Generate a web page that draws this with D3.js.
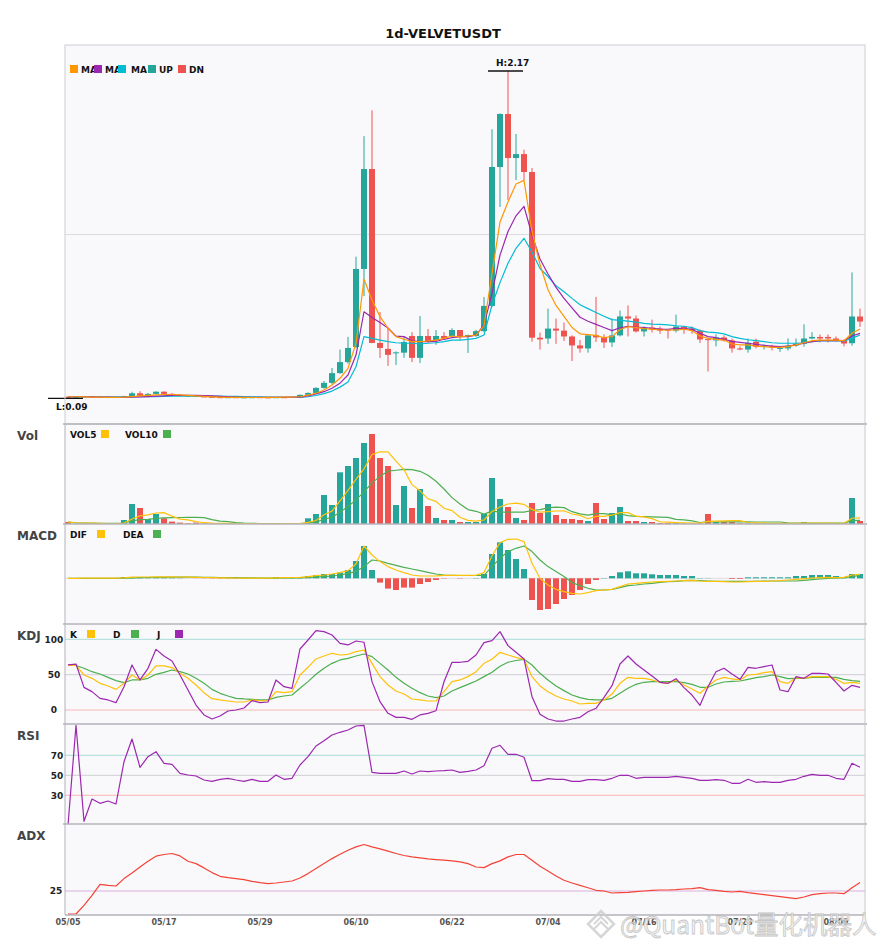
<!DOCTYPE html>
<html>
<head>
<meta charset="utf-8">
<script src="https://cdn.jsdelivr.net/npm/d3@7"></script>
<style>
  body { margin: 0; background: #fff; }
  svg { font-family: "DejaVu Sans", sans-serif; }
  .pane_label { font-size: 12px; font-weight: bold; fill: #444; }
  .legend_text { font-size: 9px; font-weight: bold; fill: #111; }
  .tick_label { font-size: 9px; font-weight: bold; fill: #222; text-anchor: middle; }
  .date_label { font-size: 8px; font-weight: bold; fill: #555; text-anchor: middle; }
  .title { font-size: 13px; font-weight: bold; fill: #111; text-anchor: middle; }
</style>
</head>
<body>
<svg id="chart" width="885" height="950"></svg>
<script>
// DATA
const dates = [
  "05/05","05/06","05/07","05/08","05/09","05/10","05/11","05/12","05/13","05/14",
  "05/15","05/16","05/17","05/18","05/19","05/20","05/21","05/22","05/23","05/24",
  "05/25","05/26","05/27","05/28","05/29","05/30","05/31","06/01","06/02","06/03",
  "06/04","06/05","06/06","06/07","06/08","06/09","06/10","06/11","06/12","06/13",
  "06/14","06/15","06/16","06/17","06/18","06/19","06/20","06/21","06/22","06/23",
  "06/24","06/25","06/26","06/27","06/28","06/29","06/30","07/01","07/02","07/03",
  "07/04","07/05","07/06","07/07","07/08","07/09","07/10","07/11","07/12","07/13",
  "07/14","07/15","07/16","07/17","07/18","07/19","07/20","07/21","07/22","07/23",
  "07/24","07/25","07/26","07/27","07/28","07/29","07/30","07/31","08/01","08/02",
  "08/03","08/04","08/05","08/06","08/07","08/08","08/09","08/10","08/11","08/12"];
const dateTicks = ["05/05","05/17","05/29","06/10","06/22","07/04","07/16","07/28","08/09"];

const open = [
  .100,.098,.100,.101,.099,.098,.097,.098,.103,.122,
  .106,.118,.132,.118,.110,.107,.105,.102,.099,.097,
  .096,.097,.095,.096,.097,.096,.095,.097,.096,.099,
  .112,.124,.156,.188,.250,.320,.416,.912,1.547,.442,
  .404,.378,.380,.486,.347,.486,.460,.486,.486,.524,
  .486,.486,.517,.677,1.560,1.897,1.617,1.642,1.528,.475,
  .470,.533,.520,.483,.426,.407,.490,.477,.445,.490,
  .610,.597,.515,.540,.533,.527,.520,.546,.533,.520,
  .466,.458,.477,.458,.407,.400,.450,.418,.422,.405,
  .407,.425,.437,.470,.480,.480,.470,.455,.440,.610];
const high = [
  .104,.102,.103,.102,.101,.100,.100,.106,.132,.135,
  .124,.134,.134,.124,.118,.110,.108,.103,.101,.099,
  .098,.099,.097,.098,.099,.098,.098,.099,.100,.114,
  .128,.160,.200,.283,.400,.480,.990,1.756,1.920,.638,
  .537,.388,.480,.510,.613,.530,.524,.510,.535,.524,
  .495,.525,.734,1.800,1.900,2.170,1.770,1.670,1.553,.508,
  .660,.597,.572,.490,.460,.490,.734,.496,.597,.648,
  .680,.616,.547,.590,.546,.530,.622,.546,.546,.527,
  .470,.496,.490,.470,.420,.470,.470,.432,.430,.420,
  .470,.470,.560,.510,.496,.496,.483,.465,.890,.660];
const low = [
  .090,.096,.098,.097,.096,.095,.095,.097,.100,.100,
  .104,.114,.115,.108,.105,.103,.100,.097,.095,.094,
  .094,.094,.093,.094,.095,.093,.094,.095,.095,.097,
  .108,.120,.150,.180,.245,.310,.410,.740,.440,.347,
  .296,.302,.347,.320,.314,.442,.430,.460,.473,.460,
  .378,.480,.510,.670,1.306,1.350,1.477,1.477,.450,.400,
  .436,.436,.455,.327,.380,.380,.448,.410,.416,.483,
  .483,.508,.483,.508,.500,.470,.508,.500,.500,.442,
  .260,.420,.450,.380,.395,.380,.407,.400,.394,.385,
  .394,.418,.418,.465,.445,.445,.450,.420,.424,.544];
const close = [
  .098,.100,.101,.099,.098,.097,.098,.103,.122,.106,
  .118,.132,.118,.110,.107,.105,.102,.099,.097,.096,
  .097,.095,.096,.097,.096,.095,.097,.096,.099,.112,
  .124,.156,.188,.250,.320,.410,.912,1.547,.442,.410,
  .366,.382,.448,.347,.486,.448,.486,.473,.524,.480,
  .492,.517,.677,1.560,1.897,1.617,1.642,1.528,.475,.464,
  .533,.520,.483,.426,.407,.490,.477,.445,.490,.610,
  .597,.515,.540,.527,.520,.520,.546,.533,.520,.464,
  .462,.477,.458,.407,.400,.443,.418,.425,.415,.410,
  .425,.437,.470,.480,.470,.470,.455,.438,.610,.578];

const maFast = [
  .100,.100,.099,.098,.097,.096,.096,.097,.101,.105,
  .108,.112,.114,.114,.112,.108,.105,.102,.099,.097,
  .096,.096,.096,.095,.095,.096,.096,.097,.098,.100,
  .110,.122,.143,.175,.217,.280,.440,.846,.715,.609,
  .535,.482,.465,.450,.450,.454,.460,.471,.486,.480,
  .486,.492,.550,.884,1.210,1.338,1.452,1.475,1.150,.940,
  .780,.680,.610,.540,.500,.495,.490,.475,.482,.527,
  .545,.540,.533,.530,.524,.524,.524,.530,.520,.486,
  .471,.465,.460,.435,.430,.430,.422,.418,.414,.414,
  .418,.430,.443,.456,.460,.460,.460,.456,.503,.530];
const maMid = [
  .100,.100,.100,.099,.098,.097,.096,.096,.097,.099,
  .101,.104,.106,.108,.109,.109,.108,.107,.105,.102,
  .099,.097,.096,.096,.096,.096,.096,.096,.097,.097,
  .105,.118,.132,.154,.186,.238,.365,.640,.604,.572,
  .537,.485,.482,.455,.450,.450,.452,.465,.475,.482,
  .482,.492,.556,.757,1.000,1.150,1.250,1.310,1.128,.975,
  .880,.795,.725,.665,.605,.580,.560,.540,.520,.538,
  .548,.543,.540,.535,.530,.528,.535,.535,.528,.503,
  .482,.475,.465,.452,.446,.440,.433,.427,.422,.418,
  .422,.429,.440,.450,.456,.457,.457,.456,.486,.503];
const maSlow = [
  .100,.100,.100,.100,.100,.099,.099,.099,.099,.100,
  .100,.101,.102,.103,.104,.104,.104,.104,.104,.104,
  .103,.102,.101,.100,.099,.098,.097,.097,.096,.095,
  .100,.108,.120,.136,.161,.193,.291,.482,.471,.460,
  .450,.443,.440,.440,.435,.440,.443,.450,.460,.460,
  .465,.471,.492,.683,.825,.948,1.043,1.107,1.020,.915,
  .864,.805,.767,.725,.685,.660,.635,.611,.590,.585,
  .580,.574,.566,.561,.560,.556,.551,.548,.539,.520,
  .511,.507,.499,.482,.471,.462,.456,.450,.443,.440,
  .440,.440,.443,.450,.454,.454,.454,.454,.471,.492];

const volume = [
  2.3,0.8,0.6,0.6,0.5,0.5,0.6,4.3,20.3,16.3,
  5.3,10.3,6,2.7,1.7,1,1.7,0.8,0.7,0.7,
  0.6,0.6,0.5,0.5,0.6,0.5,0.6,0.7,1,1,
  6,10.3,29.3,19.3,52,58.3,66.3,81.3,90.3,66.3,
  58.3,19.3,38.3,16.3,35.3,18.3,6.3,4.3,4.3,2.3,
  2.3,2.3,10.3,46.3,25.3,17.3,6.3,4.3,21.3,11.3,
  20.3,9.3,5.3,5.3,4.3,3.3,21.3,5.3,11.3,17.3,
  3.3,3.3,2.3,2.3,1.3,1.3,1.3,1,1,1,
  10.3,2.3,2.3,2.3,1,1,1,1,1,1,
  1,1,2.3,1.3,1,1,1,1,26.3,3.3];
const vol5 = [
  2.3,1.55,1.23,1.08,0.96,0.6,0.56,1.3,5.24,8.4,
  9.36,11.3,11.64,8.12,5.2,4.34,2.62,1.58,1.18,0.98,
  0.9,0.68,0.62,0.58,0.56,0.54,0.54,0.58,0.68,0.76,
  1.86,3.8,9.52,13.18,23.38,33.84,45.04,55.44,69.64,72.5,
  72.5,63.1,54.5,39.7,33.5,25.5,22.9,16.1,13.7,7.1,
  3.9,3.1,4.3,12.7,17.3,20.3,21.1,19.9,14.9,12.1,
  12.7,13.3,13.5,10.3,8.9,5.5,7.9,7.9,9.1,11.7,
  11.7,8.1,7.5,5.7,2.5,2.1,1.7,1.44,1.18,1.12,
  2.92,3.12,3.38,3.64,3.64,1.78,1.52,1.26,1,1,
  1,1,1.26,1.32,1.32,1.32,1.06,1,6.06,6.52];
const vol10 = [
  2.3,1.55,1.23,1.08,0.96,0.88,0.84,1.28,3.39,4.68,
  4.98,5.93,6.47,6.68,6.8,6.85,6.96,6.61,4.65,3.09,
  2.62,1.65,1.1,0.88,0.77,0.72,0.61,0.6,0.63,0.66,
  1.2,2.17,5.05,6.93,12.07,17.85,24.42,32.48,41.41,47.94,
  53.17,54.07,54.97,54.67,53,49,43,35.3,26.7,20.3,
  14.7,13,10.2,13.2,12.2,12.1,12.1,12.1,13.8,14.7,
  16.5,17.2,16.7,12.6,10.5,9.1,10.6,10.7,9.7,10.3,
  8.6,8,7.7,7.4,7.1,6.9,4.9,4.47,3.44,1.81,
  2.51,2.41,2.41,2.41,2.38,2.35,2.32,2.32,2.32,2.32,
  1.39,1.26,1.26,1.16,1.16,1.16,1.16,1.16,3.69,3.92];

const dif = [
  0,0,0.1,0.1,0.1,0.1,0.1,0.5,1.2,1.3,
  1.3,1.5,1.5,1.4,1.3,1.1,1.0,0.8,0.6,0.5,
  0.4,0.3,0.2,0.1,0.1,0.1,0.4,0.6,0.8,1.0,
  1.7,2.7,3.3,4.3,5.7,7.7,14.3,32.3,23.3,16.7,
  11.7,8.3,5.7,3.3,2.3,2.3,2.5,3,3,3,
  3,3,5.7,22.3,35.7,39,39.3,36.7,15,0,
  -6.7,-11,-13.3,-15,-15.7,-14.3,-12.3,-11.7,-11,-8.3,
  -5.7,-5,-4.3,-3.7,-3.3,-3,-2.7,-2.3,-2,-2.7,
  -3,-3,-3.3,-3.7,-3.7,-3.3,-3,-3,-2.7,-2.3,
  -1.7,-1,-0.3,0.3,0.7,1,0.7,1,3.3,4];
const dea = [
  0,0,0,0,0,0,0,0.2,0.4,0.6,
  0.8,0.9,1.0,1.1,1.1,1.1,1.1,1.0,0.9,0.8,
  0.7,0.6,0.5,0.4,0.3,0.2,0.2,0.3,0.4,0.5,
  0.8,1.2,1.7,2.3,3.3,5,6.7,11.7,18.3,17.3,
  15,13,11,9.3,7.7,6,4.3,3.3,3,2.8,
  2.8,2.8,3,11.7,20,26.7,30,32.3,26.7,18.3,
  11.7,6.7,1.7,-4.3,-7.3,-10,-11.7,-11.7,-11,-9.3,
  -7.3,-6.7,-5.7,-5,-4,-3.3,-3,-2.3,-2,-2.3,
  -2.7,-3,-3,-3,-3,-3,-3,-2.7,-2.7,-2.7,
  -2.7,-2.7,-2,-1.3,-0.7,0,0.3,0.7,1.7,3];
const macdHist = [
  0,0,0,0,0,0,0,1.3,0.8,0.7,
  0.6,0.6,0.5,0.3,0.2,0,-0.1,-0.2,-0.3,-0.3,
  -0.3,-0.3,-0.3,-0.3,-0.2,-0.2,1.3,1.3,1.3,1.3,
  2.3,3.3,4.3,4.3,5.7,8.3,17.3,32.3,8.3,-4.3,
  -10.3,-11.7,-9.3,-9.3,-5.7,-3.7,-1.7,-0.3,0,-0.3,
  0,0.3,4.3,24.3,36,28.3,19.3,9.3,-21.7,-31.7,
  -30.7,-25.7,-20.7,-16.7,-11.7,-5.7,-1.7,0.3,2.3,6,
  7,5,5,4,3.3,3.3,3.3,2.3,2.3,0.3,
  0.2,0,0,-0.7,-0.7,1,1,1,1,1,
  1,2.3,2.3,3.3,3.3,3.3,2.3,0.7,4.3,4.3];

const kLine = [
  63,63,49.5,44.8,37.7,34,29.2,37.7,49.5,42.5,
  49.5,62.3,62.3,60,51.9,44.8,35.4,24.5,16,14.2,
  12.7,11.3,11.3,14.2,13.2,12.7,25.9,24.5,25.9,49.5,
  60.4,72.2,76.4,80.2,77.8,78.8,82.5,84.9,66,47.2,
  35.4,26.9,22.6,15.6,14.2,12.7,12.7,25.9,40.1,42.5,
  47.2,54.2,66,71.7,81.6,77.8,74.5,71.7,47.2,34,
  25.9,19.8,15.6,12.7,8.5,9.4,9.4,14.2,22.6,37.7,
  46.2,44.8,44.8,42.5,39.2,37.7,42.5,35.4,29.7,23.6,
  34,42.5,46.2,43.9,42.5,49.5,50.5,52.8,54.2,40.1,
  37.7,45.8,44.8,47.2,47.2,47.2,43.4,37.7,39.2,37.7];
const dLine = [
  63,63,59,54.2,50.9,46.2,41.5,38.7,42.5,42.5,
  44.8,50.5,53.3,56.6,54.2,50.9,44.8,37.7,29.2,23.6,
  19.8,16.5,15.6,15.1,14.2,14.2,17.9,19.8,21.2,30.7,
  40.1,50.5,59,66,70.8,73.1,76.4,79.2,75.5,66,
  56.6,46.2,37.7,30.7,24.5,19.8,17.5,19.8,26.9,31.6,
  36.3,41,47.2,53.3,62,67.5,70,71.7,63.7,51.9,
  42.5,34,27.4,21.2,17.5,15.1,14.2,14.2,16.5,23.6,
  30.7,36.3,39.2,40.1,40.1,40.1,40.1,38.7,36.3,32.1,
  32.1,36.8,39.6,40.6,41,43.4,45.8,47.2,49.5,47.2,
  44.3,44.8,44.8,46.2,46.2,46.2,46.2,43.4,41.5,40.6];
const jLine = [
  63.7,65,32,26,16.5,14.2,10.4,33,63.7,42.5,
  59,85.8,76.4,69.3,49.5,28.3,7,-7,-12.7,-8.5,
  -1.4,0,2.8,13.2,10.4,11.3,42.5,33,30.7,86.3,
  99,112.3,110.8,106.1,94.3,92,97.6,95.8,40.1,11.8,
  -4.7,-10.4,-10.4,-13.2,-7,-4.7,-1,40,67.5,67.5,
  68.9,77.8,95.3,98.1,110.8,91,81.6,72.2,18.9,-6.1,
  -12.7,-15.6,-15.6,-12.7,-10.4,-2.4,2.4,17.9,34.4,65.1,
  76.4,65.1,56.6,48.1,39.2,37.7,44.3,31.6,21.2,6.6,
  33,54.2,59,50.9,43.4,60.4,59,61.3,63.7,28.3,
  25.9,47.2,44.8,51.9,51.9,50.9,39.2,26.9,34.9,32.1];

const rsi = [
  0,100,4,26.3,22,24.3,21.3,63.6,86.3,58,
  68.6,73.6,62,61,52,50.3,49.3,45.3,44,46,
  47,45.3,44,46,44,44,50.3,46,47,60.3,
  68.6,79.3,84.6,90.3,93,95.3,99.3,100,53,52,
  52,52,54.3,51.3,54.3,53.6,54.3,54.6,55.3,53,
  54,55.3,59.6,77,80,71,71,68,44.6,44.6,
  46.6,46,46,44,44,45.6,45.6,45,47,50,
  50,47,48,48,48,48,49,48,47,45,
  45,45.6,45,42,42,46,43,43.6,43,43,
  45,46,49,51,50,50,47,46,62,58];
const adx = [
  2,2,10.6,20.7,31.7,30.7,30,37.4,43,49,
  54.8,59.8,61.5,62.5,60.1,54.8,52.4,48.1,43.4,39.7,
  38.4,37.4,36.4,34.7,33.4,32.4,33,34,35,38,
  42.4,47.4,52.4,57.4,61.8,65.8,69.1,71.5,69.1,67.1,
  64.8,62.5,60.5,59.1,58.1,57.1,56.4,55.8,55.1,54.1,
  52.4,49,48.4,52.4,55.1,59.1,61.5,61.5,55.8,49.7,
  45,40,35.7,33,30.7,28.3,25.7,25,23,23.3,
  23.7,24.3,25,25.7,26,26,26.3,27,27.3,28.3,
  26.3,25.7,24.7,24,24.7,23.3,22.3,21.3,20.3,19.3,
  18.3,17.3,19,21.3,22.3,23,23,22.3,28.3,33.4];

// SET VARIABLES
const plotLeft = 65, plotRight = 865;
const panes = {
  main: {top: 45, bottom: 424},
  vol:  {top: 424, bottom: 524},
  macd: {top: 524, bottom: 624},
  kdj:  {top: 624, bottom: 724},
  rsi:  {top: 724, bottom: 824},
  adx:  {top: 824, bottom: 915}
};
const color = {up: "#26a69a", dn: "#ef5350", ma1: "#ff9800", ma2: "#9c27b0", ma3: "#00bcd4",
               yellow: "#ffc107", green: "#4caf50", purple: "#9c27b0", adx: "#f44336"};

const svg = d3.select('#chart');
const defs = svg.append('defs');

const x = d3.scaleBand()
            .domain(dates)
            .range([plotLeft - 1, plotRight - 1])
            .paddingInner(0.25)
            .paddingOuter(0.125);
const cx = i => x(dates[i]) + x.bandwidth() / 2;

const yPrice = d3.scaleLinear().domain([d3.min(low), d3.max(high)]).range([398.3, 71]);
const yVol = d3.scaleLinear().domain([0, 100]).range([524.3, 424.3]);
const yMacd = d3.scaleLinear().domain([-45.7, 54.3]).range([panes.macd.bottom, panes.macd.top]);
const yKdj = d3.scaleLinear().domain([0, 100]).range([710, 639.3]);
const yRsi = d3.scaleLinear().domain([0, 100]).range([825.3, 725.3]);
const yAdx = d3.scaleLinear().domain([0, 100]).range([916, 816]);

// title
svg.append('text').attr('class', 'title').attr('x', 443).attr('y', 38).text('1d-VELVETUSDT');

// backgrounds + clips
Object.entries(panes).forEach(([key, p]) => {
  svg.append('rect')
     .attr('x', plotLeft).attr('y', p.top)
     .attr('width', plotRight - plotLeft).attr('height', p.bottom - p.top)
     .attr('fill', '#f9f9fb');
  defs.append('clipPath').attr('id', 'clip-' + key)
      .append('rect')
      .attr('x', plotLeft).attr('y', p.top)
      .attr('width', plotRight - plotLeft).attr('height', p.bottom - p.top);
});
const layer = key => svg.append('g').attr('clip-path', `url(#clip-${key})`);

function hline(g, y, stroke, width) {
  g.append('line')
   .attr('x1', plotLeft).attr('x2', plotRight)
   .attr('y1', y).attr('y2', y)
   .attr('stroke', stroke).attr('stroke-width', width || 1);
}
function drawLine(g, values, yScale, stroke, width) {
  g.append('path')
   .datum(values)
   .attr('fill', 'none')
   .attr('stroke', stroke)
   .attr('stroke-width', width || 1.2)
   .attr('stroke-linejoin', 'round')
   .attr('d', d3.line().x((d, i) => cx(i)).y(d => yScale(d)));
}

// MAIN PANE
const mainG = layer('main');
hline(mainG, (panes.main.top + panes.main.bottom) / 2, '#dcdce0');

const candles = mainG.selectAll('.candle')
  .data(dates.map((d, i) => i))
  .enter()
  .append('g');
candles.append('line')
  .attr('x1', i => cx(i)).attr('x2', i => cx(i))
  .attr('y1', i => yPrice(high[i])).attr('y2', i => yPrice(low[i]))
  .attr('stroke', i => close[i] >= open[i] ? color.up : color.dn)
  .attr('stroke-width', 1);
candles.append('rect')
  .attr('x', i => x(dates[i]))
  .attr('width', x.bandwidth())
  .attr('y', i => yPrice(Math.max(open[i], close[i])))
  .attr('height', i => Math.max(1, Math.abs(yPrice(open[i]) - yPrice(close[i]))))
  .attr('fill', i => close[i] >= open[i] ? color.up : color.dn);

drawLine(mainG, maSlow, yPrice, color.ma3);
drawLine(mainG, maMid, yPrice, color.ma2);
drawLine(mainG, maFast, yPrice, color.ma1);

// high / low marks
const hi = d3.maxIndex(high), lo = d3.minIndex(low);
[[hi, high[hi], 'H:', -5], [lo, low[lo], 'L:', 12]].forEach(([i, v, lab, dy]) => {
  svg.append('line')
     .attr('x1', cx(i) - 20).attr('x2', cx(i) + 15)
     .attr('y1', yPrice(v)).attr('y2', yPrice(v))
     .attr('stroke', '#111').attr('stroke-width', 1.3);
  svg.append('text')
     .attr('x', cx(i) - 12).attr('y', yPrice(v) + dy)
     .attr('class', 'legend_text')
     .text(lab + d3.format('.2f')(v));
});

// VOLUME PANE
const volG = layer('vol');
volG.selectAll('.vbar')
  .data(volume)
  .enter()
  .append('rect')
  .attr('x', (d, i) => x(dates[i]))
  .attr('width', x.bandwidth())
  .attr('y', d => yVol(d))
  .attr('height', d => yVol(0) - yVol(d))
  .attr('fill', (d, i) => close[i] >= open[i] ? color.up : color.dn);
drawLine(volG, vol10, yVol, color.green);
drawLine(volG, vol5, yVol, color.yellow);

// MACD PANE
const macdG = layer('macd');
hline(macdG, yMacd(0), '#dcdce0');
macdG.selectAll('.mbar')
  .data(macdHist)
  .enter()
  .append('rect')
  .attr('x', (d, i) => x(dates[i]))
  .attr('width', x.bandwidth())
  .attr('y', d => Math.min(yMacd(d), yMacd(0)))
  .attr('height', d => Math.abs(yMacd(d) - yMacd(0)))
  .attr('fill', d => d >= 0 ? color.up : color.dn);
drawLine(macdG, dea, yMacd, color.green);
drawLine(macdG, dif, yMacd, color.yellow);

// KDJ PANE
const kdjG = layer('kdj');
hline(kdjG, yKdj(100), '#a9dcd8');
hline(kdjG, yKdj(50), '#cfcfd4');
hline(kdjG, yKdj(0), '#f7b6b6');
drawLine(kdjG, dLine, yKdj, color.green);
drawLine(kdjG, kLine, yKdj, color.yellow);
drawLine(kdjG, jLine, yKdj, color.purple);

// RSI PANE
const rsiG = layer('rsi');
hline(rsiG, yRsi(70), '#a9dcd8');
hline(rsiG, yRsi(50), '#cfcfd4');
hline(rsiG, yRsi(30), '#f7b6b6');
drawLine(rsiG, rsi, yRsi, color.purple);

// ADX PANE
const adxG = layer('adx');
hline(adxG, yAdx(25), '#dcb0dc');
drawLine(adxG, adx, yAdx, color.adx);

// FRAMES
svg.append('rect')
   .attr('x', plotLeft).attr('y', panes.main.top)
   .attr('width', plotRight - plotLeft).attr('height', panes.main.bottom - panes.main.top)
   .attr('fill', 'none').attr('stroke', '#cdcdd4');
['vol', 'macd', 'kdj', 'rsi', 'adx'].forEach(k => {
  const p = panes[k];
  svg.append('line').attr('x1', plotLeft - 2).attr('x2', plotRight + 2)
     .attr('y1', p.top).attr('y2', p.top)
     .attr('stroke', '#b2b2ba').attr('stroke-width', 1.5);
  svg.append('line').attr('x1', plotLeft).attr('x2', plotLeft)
     .attr('y1', p.top).attr('y2', p.bottom)
     .attr('stroke', '#b2b2ba');
  svg.append('line').attr('x1', plotRight).attr('x2', plotRight)
     .attr('y1', p.top).attr('y2', p.bottom)
     .attr('stroke', '#c8c8d0');
});
svg.append('line').attr('x1', plotLeft).attr('x2', plotRight)
   .attr('y1', panes.adx.bottom).attr('y2', panes.adx.bottom)
   .attr('stroke', '#b2b2ba').attr('stroke-width', 1.5);

// PANE LABELS
[['Vol', 'vol'], ['MACD', 'macd'], ['KDJ', 'kdj'], ['RSI', 'rsi'], ['ADX', 'adx']].forEach(([t, k]) => {
  svg.append('text').attr('class', 'pane_label')
     .attr('x', 17).attr('y', panes[k].top + 16).text(t);
});

// TICK LABELS
[100, 50, 0].forEach(v => svg.append('text').attr('class', 'tick_label')
   .attr('x', 54).attr('y', yKdj(v) + 3.2).text(v));
[70, 50, 30].forEach(v => svg.append('text').attr('class', 'tick_label')
   .attr('x', 57).attr('y', yRsi(v) + 3.2).text(v));
svg.append('text').attr('class', 'tick_label')
   .attr('x', 56).attr('y', yAdx(25) + 3.2).text(25);

svg.selectAll('.date_label')
   .data(dateTicks)
   .enter()
   .append('text')
   .attr('class', 'date_label')
   .attr('x', d => cx(dates.indexOf(d)))
   .attr('y', 925)
   .text(d => d);

// LEGENDS
function legend(items, y) {
  items.forEach(it => {
    if (it.text) {
      svg.append('text').attr('class', 'legend_text')
         .attr('x', it.x).attr('y', y + 3.5).text(it.text);
    }
  });
  items.forEach(it => {
    if (it.fill) {
      svg.append('rect').attr('x', it.x).attr('y', y - 4)
         .attr('width', 8).attr('height', 8).attr('fill', it.fill);
    }
  });
}
legend([{x: 70, fill: color.ma1}, {x: 81, text: 'MA'}, {x: 94, fill: color.ma2}, {x: 105, text: 'MA'},
        {x: 118, fill: color.ma3}, {x: 131, text: 'MA'}, {x: 148, fill: color.up}, {x: 159, text: 'UP'},
        {x: 178, fill: color.dn}, {x: 189, text: 'DN'}], 69);
legend([{x: 70, text: 'VOL5'}, {x: 101, fill: color.yellow}, {x: 125, text: 'VOL10'}, {x: 163, fill: color.green}], 434);
legend([{x: 70, text: 'DIF'}, {x: 97, fill: color.yellow}, {x: 123, text: 'DEA'}, {x: 153, fill: color.green}], 534);
legend([{x: 70, text: 'K'}, {x: 87, fill: color.yellow}, {x: 113, text: 'D'}, {x: 131, fill: color.green},
        {x: 157, text: 'J'}, {x: 175, fill: color.purple}], 634);

// WATERMARK
const wm = svg.append('g').attr('opacity', 0.85);
wm.append('path').attr('d', 'M601,911 L614,924 L601,937 L588,924 Z')
  .attr('fill', 'none').attr('stroke', '#cfcfcf').attr('stroke-width', 2.5);
wm.append('path').attr('d', 'M594,924 L601,917 L608,924 M594,929 L601,922 L608,929')
  .attr('fill', 'none').attr('stroke', '#cfcfcf').attr('stroke-width', 2);
wm.append('text')
  .attr('x', 620).attr('y', 934)
  .style('font-family', '"Noto Sans CJK SC", "Noto Sans", sans-serif')
  .style('font-size', '24.5px')
  .attr('fill', '#f2f2f2').attr('stroke', '#bdbdbd').attr('stroke-width', 0.8)
  .text('@QuantBot量化机器人');
</script>
</body>
</html>
